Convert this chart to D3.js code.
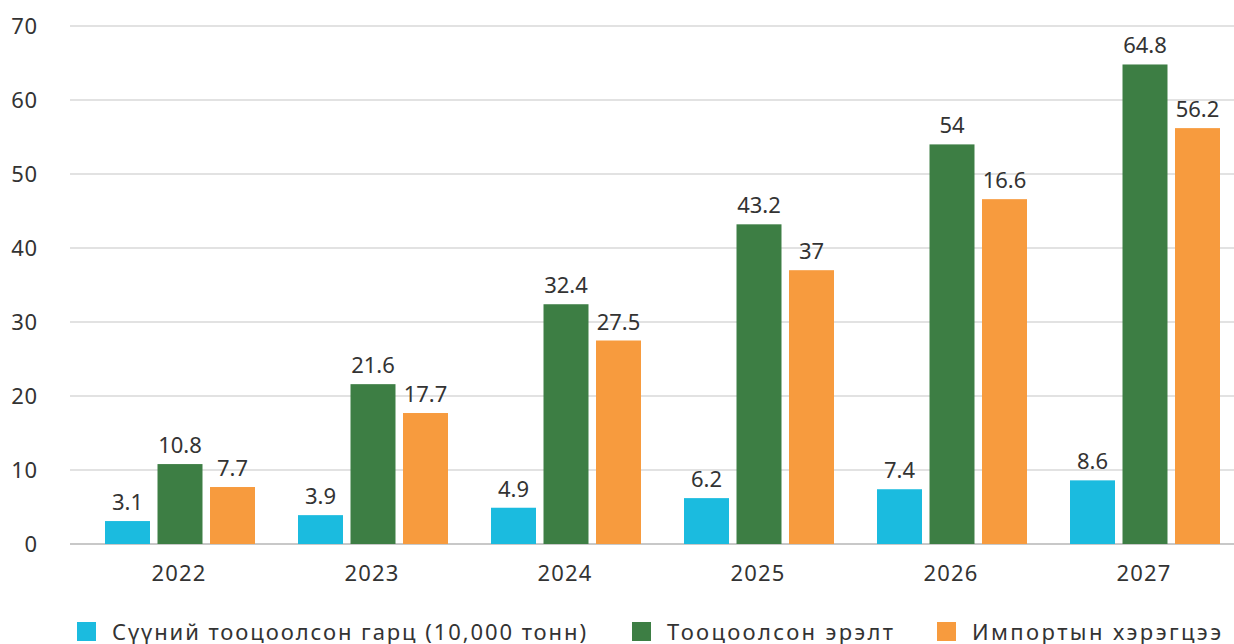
<!DOCTYPE html>
<html><head><meta charset="utf-8">
<script src="https://cdn.jsdelivr.net/npm/d3@7"></script>
<style>body{margin:0;background:#fff}svg{display:block}text{font-family:"Noto Sans",sans-serif;fill:#333}</style>
</head><body><svg id="c" width="1234" height="644"></svg>
<script>
const categories = ["2022","2023","2024","2025","2026","2027"];
const seriesNames = ["Сүүний тооцоолсон гарц (10,000 тонн)","Тооцоолсон эрэлт","Импортын хэрэгцээ"];
const milkOutput = [3.1,3.9,4.9,6.2,7.4,8.6];
const demand = [10.8,21.6,32.4,43.2,54,64.8];
const imports = [7.7,17.7,27.5,37,46.6,56.2];
const milkLabels = ["3.1","3.9","4.9","6.2","7.4","8.6"];
const demandLabels = ["10.8","21.6","32.4","43.2","54","64.8"];
const importLabels = ["7.7","17.7","27.5","37","16.6","56.2"];
const yTicks = [0,10,20,30,40,50,60,70];
const colors = ["#1bbbdf","#3d7e44","#f79b3e"];

const series = [milkOutput, demand, imports];
const labels = [milkLabels, demandLabels, importLabels];

const svg = d3.select("#c");
const y = d3.scaleLinear().domain([0,70]).range([544,26]);
const x0 = d3.scaleBand().domain(categories).range([83.5,1241.5]).paddingInner(0).paddingOuter(0);
const x1 = d3.scaleBand().domain(d3.range(3)).range([21.5,171.5]).paddingInner(0.143).paddingOuter(0);

// grid
svg.append("g").selectAll("line").data(yTicks).join("line")
  .attr("x1",70).attr("x2",1234)
  .attr("y1",d=>y(d)).attr("y2",d=>y(d))
  .attr("stroke",d=>d===0?"#c8c8c8":"#d9d9d9").attr("stroke-width",d=>d===0?2:1.3);
// y axis labels
svg.append("g").selectAll("text").data(yTicks).join("text")
  .attr("x",38).attr("y",d=>y(d)).attr("dy","0.36em").attr("text-anchor","end")
  .attr("font-size",22).attr("letter-spacing",0.8).text(d=>d);

// bars
series.forEach((vals,si)=>{
  const g = svg.append("g");
  g.selectAll("rect").data(vals).join("rect")
    .attr("x",(d,i)=>x0(categories[i])+x1(si))
    .attr("width",x1.bandwidth())
    .attr("y",d=>y(d)).attr("height",d=>y(0)-y(d))
    .attr("fill",colors[si]);
  g.selectAll("text").data(vals).join("text")
    .attr("x",(d,i)=>x0(categories[i])+x1(si)+x1.bandwidth()/2)
    .attr("y",d=>y(d)-11).attr("text-anchor","middle")
    .attr("font-size",22).text((d,i)=>labels[si][i]);
});

// x labels
svg.append("g").selectAll("text").data(categories).join("text")
  .attr("x",d=>x0(d)+x0.bandwidth()/2-1).attr("y",581).attr("text-anchor","middle")
  .attr("font-size",22).attr("letter-spacing",1.2).text(d=>d);

// legend
const legX = [77,632,937];
const legW = [474,226,249];
seriesNames.forEach((n,i)=>{
  svg.append("rect").attr("x",legX[i]).attr("y",622).attr("width",19).attr("height",19).attr("fill",colors[i]);
  svg.append("text").attr("x",legX[i]+35).attr("y",640).attr("font-size",22)
    .attr("textLength",legW[i]).attr("lengthAdjust","spacing").text(n);
});
</script></body></html>
